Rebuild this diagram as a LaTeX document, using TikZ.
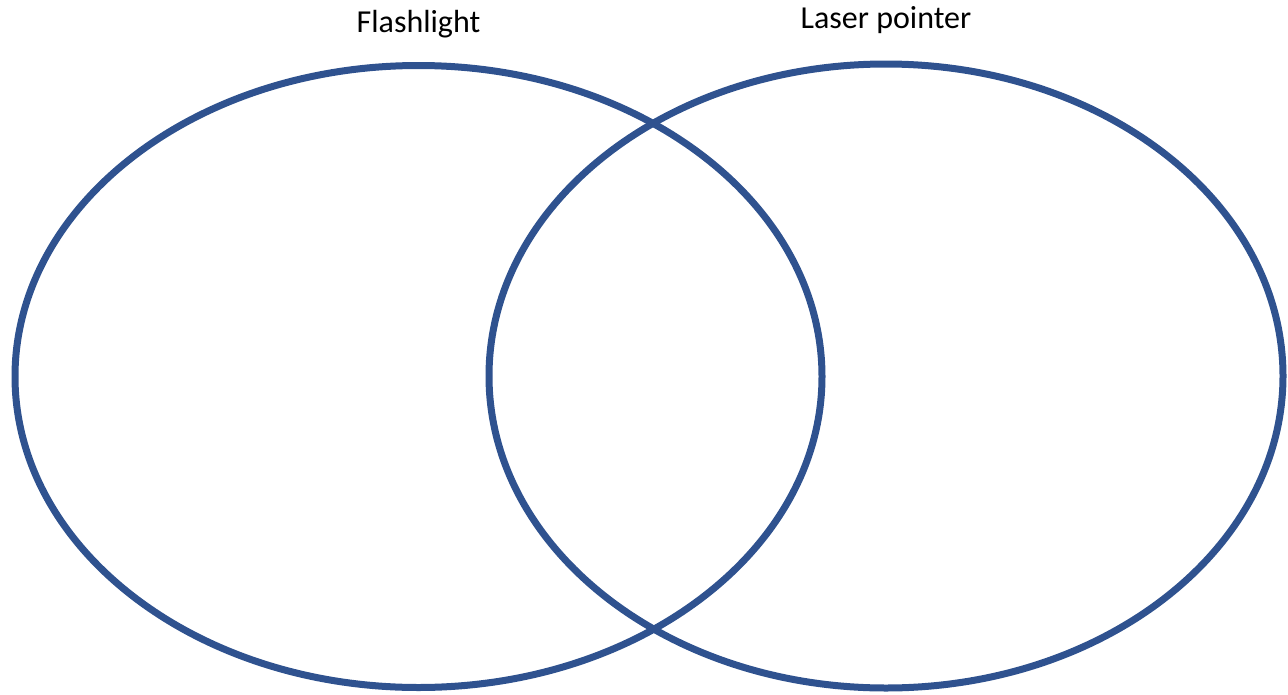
\documentclass[tikz,border=0pt]{standalone}
\usepackage{fontspec}
\setmainfont{Carlito}
\usetikzlibrary{shapes.geometric}
\definecolor{vennblue}{HTML}{2F528F}
\tikzset{
  vennset/.style={ellipse, draw=vennblue, line width=7pt, inner sep=0pt, outer sep=0pt},
  setlabel/.style={anchor=base, inner sep=0pt, font=\fontsize{32}{38}\selectfont, text=black}
}
\begin{document}
\begin{tikzpicture}[x=1pt,y=-1pt]
\useasboundingbox (0,0) rectangle (1288,694);
\node[vennset, minimum width=807pt, minimum height=622pt] (flash) at (418.5,376.5) {};
\node[vennset, minimum width=794pt, minimum height=624pt] (laser) at (886,376) {};
\node[setlabel] (flashlbl) at (418.5,32) {Flashlight};
\node[setlabel] (laserlbl) at (886,28) {Laser pointer};
\end{tikzpicture}
\end{document}
